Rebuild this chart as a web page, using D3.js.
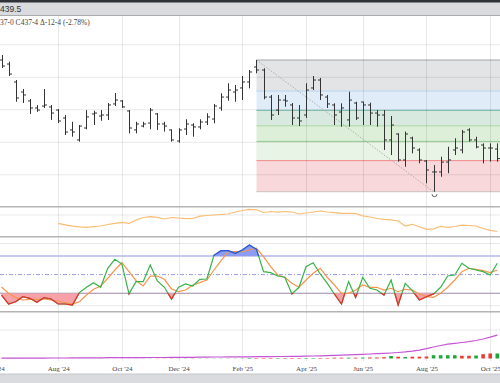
<!DOCTYPE html>
<html>
<head>
<meta charset="utf-8">
<script src="https://cdn.jsdelivr.net/npm/d3@7"></script>
<style>
  body { margin: 0; background: #fff; }
  svg { display: block; }
</style>
</head>
<body>
<div id="graf"></div>
<script>
// weekly bars, Monday dates
const dates = d3.utcMonday.range(new Date("2024-06-10"), new Date("2025-10-14"));

const opens = [513.3,510.2,496.4,488.7,481.8,476.4,477.9,477.2,474.8,468.7,
  459.5,451.8,461.0,471.8,470.2,471.0,479.5,481.8,474.1,459.5,
  462.5,464.8,471.8,464.1,459.5,451.0,460.2,463.3,461.8,465.6,
  467.9,476.4,484.8,488.7,491.8,496.4,507.9,505.6,484.8,474.8,
  482.5,478.7,468.7,471.0,491.8,497.9,484.8,478.7,473.3,467.2,
  480.2,481.0,478.7,472.5,471.0,451.8,456.4,436.4,453.3,444.1,
  435.6,427.2,427.2,434.8,444.1,444.1,459.5,451.8,447.9,445.6,
  444.8];
const highs = [517.2,512.0,497.9,491.0,483.3,478.7,491.0,478.7,475.6,471.0,
  465.8,463.3,474.8,474.3,474.8,480.2,487.9,482.5,474.8,465.8,
  465.8,476.4,472.5,465.8,460.0,460.8,467.7,464.6,467.7,472.3,
  479.5,487.7,495.4,494.1,501.0,505.6,513.3,506.9,486.4,486.4,
  486.4,480.2,478.7,495.4,501.0,499.5,486.4,480.0,480.0,488.9,
  481.2,481.2,480.5,474.8,474.8,470.2,456.9,458.2,454.3,445.4,
  436.4,432.5,438.9,446.6,453.1,459.5,460.8,454.3,449.2,449.2,
  449.2];
const lows = [507.2,501.0,481.2,480.2,471.8,473.5,476.4,467.2,464.8,455.6,
  454.3,450.5,460.0,463.3,466.6,467.2,477.9,476.4,456.9,456.9,
  461.5,460.0,459.5,458.2,450.5,449.7,455.6,454.3,460.0,463.3,
  464.6,474.3,482.0,481.2,482.5,491.5,503.1,483.1,467.2,471.0,
  477.4,463.3,462.5,468.7,490.2,482.5,476.4,463.3,462.0,462.0,
  467.2,463.3,463.3,462.0,444.1,440.2,435.1,431.2,441.5,433.8,
  418.5,412.0,423.5,426.2,440.2,441.5,450.5,445.4,433.8,435.1,
  435.1];
const closes = [508.7,502.5,484.1,486.4,476.4,474.8,478.7,472.5,466.4,457.9,
  457.9,462.5,469.5,472.5,471.0,478.7,482.5,477.2,461.0,464.1,
  464.1,474.8,464.1,462.5,451.8,459.5,464.1,461.8,465.6,469.5,
  477.9,484.8,490.2,490.2,496.4,504.1,505.6,484.8,471.0,482.5,
  481.8,468.7,466.4,490.2,497.9,486.4,479.5,471.0,476.4,482.5,
  468.7,478.7,472.5,471.0,451.8,463.3,436.4,456.4,445.6,436.4,
  428.7,427.2,434.8,436.4,445.6,457.9,451.8,446.4,445.6,445.6,
  437.5];

// volatility study (starts later)
const volat = [null,null,null,null,null,null,null,null,
  13.4,11.9,10.5,9.8,9.4,10.0,10.7,12.2,13.4,14.3,13.4,16.7,
  19.2,20.0,19.4,17.7,19.2,18.7,18.0,18.2,20.5,21.2,21.7,22.2,
  22.7,24.7,26.2,27.3,26.9,24.2,25.2,24.5,25.2,24.7,22.7,23.7,
  24.7,25.7,24.7,24.0,23.4,23.4,23.2,20.9,19.7,18.2,17.4,16.9,
  15.7,10.7,12.4,9.9,7.4,7.9,10.4,9.4,10.2,11.5,11.2,10.7,
  8.2,6.4,5.2];

const stochK = [17,2.7,6.4,14.5,11.9,5.5,12.9,10.8,2.7,2.7,
  1.1,21,29.6,37,29.6,60.1,74.6,67,19,38.6,
  38.6,65.4,39.7,29.6,10.8,29.6,34.9,31.7,42.4,42.9,
  81,88.4,88.4,84.2,89.5,97.6,90.7,54.7,53.1,47.7,
  45.7,19,29.6,62.7,69.1,51,36,18.8,2.7,38.6,
  13.5,45.7,28,25.2,17.2,41.3,1.1,36,24.1,9.2,
  14.5,19,29.6,47.7,49.4,68.2,60.1,57.4,54.7,49.4,
  68.2];
const stochD = [30,19.9,12.9,9.2,10.3,10.3,10.8,9.2,7.6,4.8,
  2.7,6.4,17.2,26.4,31.7,44.1,57.4,69.1,54.7,40.2,
  31.7,47.7,47.7,42.4,27,22.5,25.2,33.3,37,41.3,
  57.4,72.3,86.8,86.8,86.8,89.5,92.3,78.8,62.7,49.4,
  45.7,36,29.6,41.3,52.1,60.1,45.7,33.3,19.9,19.9,
  25.2,33.3,29.6,29.6,25.2,28,22.5,26.4,25.2,18.8,
  14.5,13.5,19.9,29.6,41.3,54.7,60.1,58.5,56.3,53.1,
  57.4];

const openInt = [0.3,0.3,0.3,0.4,0.4,0.4,0.4,0.5,0.5,0.5,
  0.6,0.6,0.6,0.7,0.7,0.8,0.8,0.8,0.9,0.9,
  0.9,1.0,1.0,1.0,1.1,1.1,1.2,1.2,1.3,1.4,
  1.5,1.5,1.6,1.6,1.7,1.7,1.8,1.8,1.9,2.0,
  2.0,2.1,2.2,2.3,2.5,2.7,2.9,3.1,3.3,3.6,
  3.9,4.2,4.5,4.8,5.1,5.5,6.0,6.6,7.4,8.4,
  9.8,11.5,13.0,14.3,15.2,16.0,16.8,18.0,19.5,21.3,
  23.3];
const volume = [0.1,0.1,0.1,0.1,0.1,0.1,0.1,0.1,0.1,0.1,
  0.1,0.1,0.1,0.1,0.1,0.1,0.1,0.1,0.1,0.1,
  0.1,0.2,0.2,0.2,0.2,0.2,0.2,0.2,0.2,0.2,
  0.2,0.2,0.2,0.2,0.2,0.5,0.5,0.5,0.5,0.5,
  0.5,0.5,0.5,0.5,0.5,0.5,0.5,0.8,0.8,0.8,
  0.8,0.9,1.0,1.0,1.3,2.5,1.8,1.5,1.8,1.8,
  2.0,3.3,3.3,3.3,3.3,2.7,2.7,3.0,4.3,5.0,
  5.0];
const volDir = ("dddddduddd" + "duuuuuuddu" + "uuddduuduu" + "uuuuuudddu" +
  "ddduuddddu" + "dudddududd" + "duuuuddudd" + "u").split("");

const tickDates = ["2024-06-03","2024-08-05","2024-10-07","2024-12-02","2025-02-03",
  "2025-04-07","2025-06-02","2025-08-04","2025-10-06"];
const priceTicks = [425, 450, 475, 500, 525];
const stochLevels = [20, 50, 80];
// swing high (Feb '25) and swing low (Aug '25) used for the retracement
const fibFrom = 36, fibTo = 61;
const fibRatios = [0, 0.236, 0.382, 0.5, 0.618, 0.764, 1];

const fibFill = ["#e3e4e6", "#e0edf9", "#d8e9df", "#ddefd9", "#e8f4e5", "#f8d8da"];
const fibLine = ["#a4a4a4", "#b7d4f0", "#74b8a8", "#a9d8a3", "#93cf90", "#f0898c", "#cdbfc0"];

const W = 500, H = 383;

const svg = d3.select("#graf").append("svg")
  .attr("width", W).attr("height", H)
  .style("font-family", "'Liberation Serif', 'DejaVu Serif', serif");

const x = d3.scaleUtc().domain([dates[0], dates[dates.length - 1]]).range([1.5, 497.3]);
const y = d3.scaleLinear().domain([400, 550]).range([207.3, 12.3]);
const yv = d3.scaleLinear().domain([0, 30]).range([236.7, 206.7]);
const ys = d3.scaleLinear().domain([0, 100]).range([305.7, 243.5]);
const yo = d3.scaleLinear().domain([0, 46]).range([358.5, 312.5]);

const px = i => x(dates[i]);

// fibonacci zones from the swing high to the swing low
const fibHi = highs[fibFrom], fibLo = lows[fibTo];
const fibLevels = fibRatios.map(r => fibHi - r * (fibHi - fibLo));
const fx0 = px(fibFrom);

const zones = svg.append("g");
fibLevels.slice(0, -1).forEach((lv, i) => {
  zones.append("rect")
    .attr("x", fx0).attr("width", W - fx0)
    .attr("y", y(lv)).attr("height", y(fibLevels[i + 1]) - y(lv))
    .attr("fill", fibFill[i]);
});
fibLevels.forEach((lv, i) => {
  zones.append("line")
    .attr("x1", fx0).attr("x2", W)
    .attr("y1", y(lv)).attr("y2", y(lv))
    .attr("stroke", fibLine[i]).attr("stroke-width", 1);
});

// grid
const grid = svg.append("g").attr("stroke", "rgba(0,0,0,0.09)").attr("stroke-width", 1);
tickDates.forEach(d => {
  const gx = Math.round(x(new Date(d))) + 0.5;
  grid.append("line").attr("x1", gx).attr("x2", gx).attr("y1", 15).attr("y2", 361);
});
priceTicks.forEach(t => {
  grid.append("line").attr("x1", 0).attr("x2", W).attr("y1", y(t)).attr("y2", y(t));
});
[21.7].forEach(t => grid.append("line").attr("x1", 0).attr("x2", W).attr("y1", yv(t)).attr("y2", yv(t)));
[0, 100].forEach(t => grid.append("line").attr("x1", 0).attr("x2", W).attr("y1", ys(t)).attr("y2", ys(t)));
[28.5].forEach(t => grid.append("line").attr("x1", 0).attr("x2", W).attr("y1", yo(t)).attr("y2", yo(t)));

// retracement trend line
svg.append("line")
  .attr("x1", px(fibFrom)).attr("y1", y(fibHi))
  .attr("x2", px(fibTo)).attr("y2", y(fibLo))
  .attr("stroke", "#a0a0a0").attr("stroke-width", 0.8)
  .attr("stroke-dasharray", "1.5,1.5");

// OHLC bars
const bars = svg.append("g").attr("stroke", "#333").attr("stroke-width", 1);
dates.forEach((d, i) => {
  const bx = Math.round(px(i)) + 0.5;
  bars.append("line").attr("x1", bx).attr("x2", bx).attr("y1", y(highs[i])).attr("y2", y(lows[i]));
  bars.append("line").attr("x1", bx - 2.5).attr("x2", bx).attr("y1", y(opens[i])).attr("y2", y(opens[i]));
  bars.append("line").attr("x1", bx).attr("x2", bx + 2.5).attr("y1", y(closes[i])).attr("y2", y(closes[i]));
});

// swing low marker
const mx = Math.round(px(fibTo)) + 0.5, my = y(fibLo) + 2.5;
svg.append("path")
  .attr("d", `M${mx - 2.5},${my} A2.5,2.5 0 0 0 ${mx + 2.5},${my}`)
  .attr("fill", "none").attr("stroke", "#555").attr("stroke-width", 0.9);

// panel separators
[206.7, 236.7, 311.7].forEach(sy => {
  svg.append("line").attr("x1", 0).attr("x2", W).attr("y1", sy).attr("y2", sy)
    .attr("stroke", "#b4b4b4").attr("stroke-width", 1.5);
});

// volatility line
svg.append("path")
  .datum(volat)
  .attr("fill", "none").attr("stroke", "#fbbd74").attr("stroke-width", 1.2)
  .attr("d", d3.line().defined(d => d != null).x((d, i) => px(i)).y(d => yv(d)));

// stochastic levels
svg.append("line").attr("x1", 0).attr("x2", W).attr("y1", ys(80)).attr("y2", ys(80))
  .attr("stroke", "#c6c8ee").attr("stroke-width", 2);
svg.append("line").attr("x1", 0).attr("x2", W).attr("y1", ys(50)).attr("y2", ys(50))
  .attr("stroke", "#8080dc").attr("stroke-width", 0.8).attr("stroke-dasharray", "4,2,1,2");
svg.append("line").attr("x1", 0).attr("x2", W).attr("y1", ys(20)).attr("y2", ys(20))
  .attr("stroke", "#8e89a9").attr("stroke-width", 1.2);

const defs = svg.append("defs");
defs.append("clipPath").attr("id", "above80").append("rect")
  .attr("x", 0).attr("width", W).attr("y", 237).attr("height", ys(80) - 237);
defs.append("clipPath").attr("id", "below20").append("rect")
  .attr("x", 0).attr("width", W).attr("y", ys(20)).attr("height", 311 - ys(20));

const lineS = d3.line().x((d, i) => px(i)).y(d => ys(d));

svg.append("path").datum(stochK)
  .attr("clip-path", "url(#above80)")
  .attr("fill", "#8d9cf2")
  .attr("d", d3.area().x((d, i) => px(i)).y0(ys(80)).y1(d => ys(d)));
svg.append("path").datum(stochK)
  .attr("clip-path", "url(#below20)")
  .attr("fill", "#f8a2a7")
  .attr("d", d3.area().x((d, i) => px(i)).y0(ys(20)).y1(d => ys(d)));

svg.append("path").datum(stochD)
  .attr("fill", "none").attr("stroke", "#f6954c").attr("stroke-width", 1.2).attr("d", lineS);
svg.append("path").datum(stochK)
  .attr("fill", "none").attr("stroke", "#36b34a").attr("stroke-width", 1.2).attr("d", lineS);
svg.append("path").datum(stochK)
  .attr("clip-path", "url(#above80)")
  .attr("fill", "none").attr("stroke", "#2f4ff0").attr("stroke-width", 1.2).attr("d", lineS);
svg.append("path").datum(stochK)
  .attr("clip-path", "url(#below20)")
  .attr("fill", "none").attr("stroke", "#ee2b2f").attr("stroke-width", 1.2).attr("d", lineS);

// volume bars + open interest
svg.append("g").selectAll("rect").data(volume).join("rect")
  .attr("x", (d, i) => px(i) - 1.8)
  .attr("width", 3.6)
  .attr("y", d => yo(d))
  .attr("height", d => yo(0) - yo(d))
  .attr("fill", (d, i) => volDir[i] == "u" ? "#1fa83a" : "#ee3b30");

svg.append("path").datum(openInt)
  .attr("fill", "none").attr("stroke", "#c655d6").attr("stroke-width", 1.2)
  .attr("d", d3.line().x((d, i) => px(i)).y(d => yo(d)));

// x axis labels
const xAxis = svg.append("g")
  .attr("transform", "translate(0, 362)")
  .call(d3.axisBottom(x)
    .tickValues(tickDates.map(d => new Date(d)))
    .tickSize(0)
    .tickFormat(d3.utcFormat("%b '%y")));
xAxis.select(".domain").remove();
xAxis.selectAll("text")
  .attr("y", 4)
  .style("font-family", "'Liberation Serif', serif")
  .style("font-size", "7px")
  .attr("fill", "#444");

// header and footer
svg.append("rect").attr("x", 0).attr("y", 0).attr("width", W).attr("height", 15).attr("fill", "#d9dbde");
svg.append("rect").attr("x", 0).attr("y", 0).attr("width", W).attr("height", 2.5).attr("fill", "#2f3237");
svg.append("line").attr("x1", 0).attr("x2", W).attr("y1", 15.5).attr("y2", 15.5)
  .attr("stroke", "#a9abae").attr("stroke-width", 1.2);
svg.append("text").attr("x", 0).attr("y", 12)
  .style("font-family", "'Liberation Sans', Arial, sans-serif")
  .style("font-size", "8.5px").attr("fill", "#333")
  .text("439.5");
svg.append("text").attr("x", 0).attr("y", 24.5)
  .style("font-size", "7.5px").attr("fill", "#444")
  .text("37-0 C437-4 \u0394-12-4 (-2.78%)");

svg.append("rect").attr("x", 0).attr("y", 374).attr("width", W).attr("height", H - 374).attr("fill", "#d9dbde");
svg.append("line").attr("x1", 0).attr("x2", W).attr("y1", 374).attr("y2", 374)
  .attr("stroke", "#c4c6c9").attr("stroke-width", 1);
</script>
</body>
</html>
